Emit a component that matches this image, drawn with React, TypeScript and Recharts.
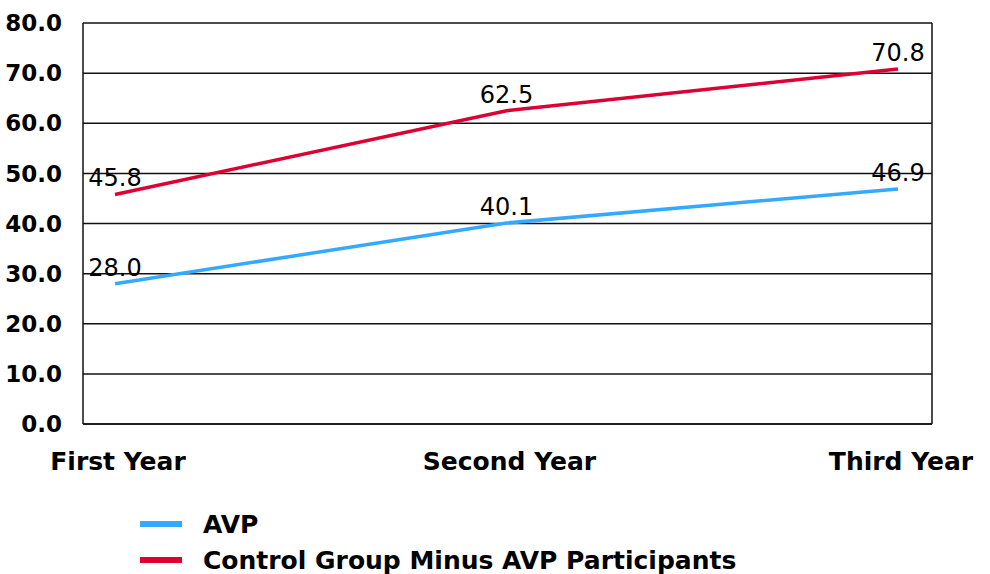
import React from 'react';
import {
  LineChart,
  Line,
  XAxis,
  YAxis,
  CartesianGrid,
  Legend,
  LabelList
} from 'recharts';

const years = ['First Year', 'Second Year', 'Third Year'];
const avpValues = [28.0, 40.1, 46.9];
const controlValues = [45.8, 62.5, 70.8];
const yTicks = [0, 10, 20, 30, 40, 50, 60, 70, 80];

const seriesNames = {
  avp: 'AVP',
  control: 'Control Group Minus AVP Participants'
};

const data = years.map((year, i) => ({
  year,
  avp: avpValues[i],
  control: controlValues[i]
}));

const FONT = '"DejaVu Sans", Arial, sans-serif';

const LegendRows = (props: any) => {
  const { payload } = props;
  return (
    <div style={{ fontFamily: FONT }}>
      {(payload || []).map((entry: any) => (
        <div
          key={entry.value}
          style={{ display: 'flex', alignItems: 'center', height: 36 }}
        >
          <div style={{ width: 42, height: 6, background: entry.color, marginRight: 21 }} />
          <span style={{ fontSize: 25, fontWeight: 'bold', color: '#000', whiteSpace: 'nowrap' }}>
            {entry.value}
          </span>
        </div>
      ))}
    </div>
  );
};

const fmt = (v: any) => Number(v).toFixed(1);

export default function App() {
  return (
    <div style={{ position: 'absolute', left: 0, top: 0, width: 990, height: 574, background: '#fff' }}>
      <LineChart
        width={990}
        height={574}
        data={data}
        margin={{ top: 23, right: 0, bottom: 90, left: 0 }}
        style={{ fontFamily: FONT }}
      >
        <CartesianGrid horizontal vertical={false} stroke="#111" strokeWidth={1.5} />
        <XAxis
          dataKey="year"
          height={60}
          padding={{ left: 32, right: 34 }}
          tickLine={false}
          tickSize={0}
          tickMargin={28}
          axisLine={{ stroke: '#111', strokeWidth: 1.5 }}
          tick={{ fill: '#000', fontSize: 25, fontWeight: 'bold', fontFamily: FONT, dx: 3 }}
        />
        <YAxis
          width={83}
          domain={[0, 80]}
          ticks={yTicks}
          tickFormatter={fmt}
          tickLine={false}
          tickSize={0}
          tickMargin={21}
          axisLine={{ stroke: '#111', strokeWidth: 1.5 }}
          tick={{ fill: '#000', fontSize: 23, fontWeight: 'bold', fontFamily: FONT }}
        />
        <YAxis
          yAxisId="frame"
          orientation="right"
          width={58}
          domain={[0, 80]}
          tick={false}
          tickLine={false}
          axisLine={{ stroke: '#111', strokeWidth: 1.5 }}
        />
        <Legend
          layout="vertical"
          align="center"
          verticalAlign="middle"
          wrapperStyle={{ left: 140, top: 506, width: 700 }}
          content={<LegendRows />}
        />
        <Line
          type="linear"
          dataKey="avp"
          name={seriesNames.avp}
          stroke="#33aaff"
          strokeWidth={3.5}
          dot={false}
          isAnimationActive={false}
        >
          <LabelList
            dataKey="avp"
            position="top"
            offset={8}
            formatter={fmt}
            fill="#000"
            fontSize={24}
            fontFamily={FONT}
          />
        </Line>
        <Line
          type="linear"
          dataKey="control"
          name={seriesNames.control}
          stroke="#dd0033"
          strokeWidth={3.5}
          dot={false}
          isAnimationActive={false}
        >
          <LabelList
            dataKey="control"
            position="top"
            offset={8}
            formatter={fmt}
            fill="#000"
            fontSize={24}
            fontFamily={FONT}
          />
        </Line>
      </LineChart>
    </div>
  );
}
